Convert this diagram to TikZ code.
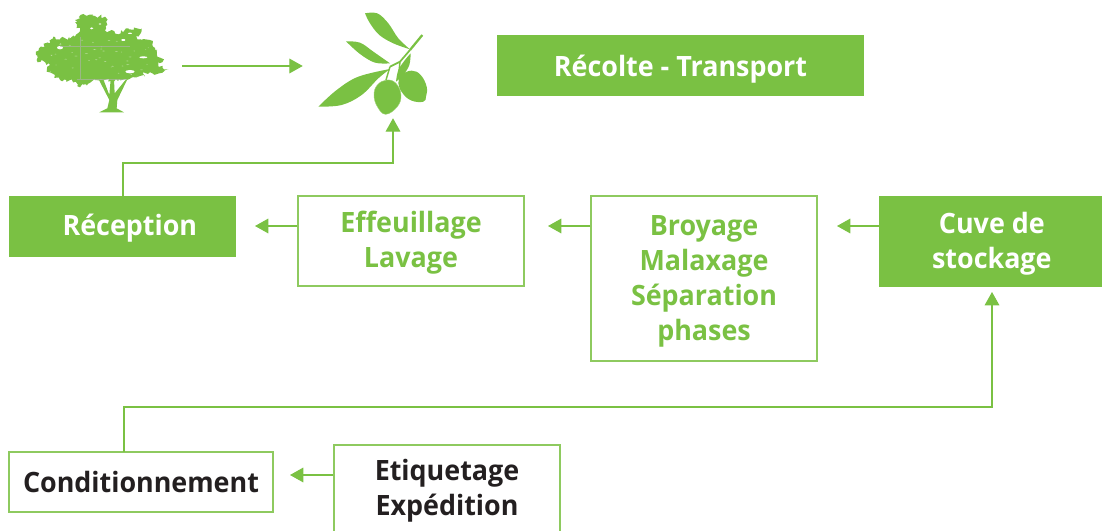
\documentclass[tikz,border=0pt]{standalone}
\usepackage{fontspec}
\setmainfont[FakeStretch=0.96]{Open Sans}
\usetikzlibrary{arrows.meta,decorations.pathmorphing}
\definecolor{olivegreen}{HTML}{7AC143}
\definecolor{inkdark}{HTML}{231F20}
\newcommand{\tp}{\rule{0pt}{19pt}}
\newcommand{\bt}{\rule[-3.2pt]{0pt}{3.2pt}}
\tikzset{
  x=0.75pt,y=-0.75pt,
  boxbase/.style={rectangle,inner sep=0pt,align=center,font=\fontsize{21}{26.2}\selectfont\bfseries},
  filledbox/.style={boxbase,fill=olivegreen,text=white},
  outlinebox/.style={boxbase,draw=olivegreen!85,line width=0.85pt,text=olivegreen},
  darkbox/.style={outlinebox,text=inkdark},
  flow/.style={draw=olivegreen,line width=0.85pt,-{Triangle[length=10pt,width=11pt,fill=olivegreen]},shorten >=0pt},
  hidden/.style={rectangle,inner sep=0pt},
  plant/.style={fill=olivegreen,draw=none},
}
\begin{document}
\begin{tikzpicture}
\useasboundingbox (0,0) rectangle (1102,531);
\clip (0,0) rectangle (1102,531);
\pgfmathsetseed{42}
% tree (zoom coordinates: 3 units per pixel)
\begin{scope}[shift={(20,0)},x=0.25pt,y=-0.25pt]
  \fill[plant,decorate,decoration={random steps,segment length=1.6pt,amplitude=1.5pt}]
   (48,155)--(62,140)--(90,130)--(100,110)--(120,118)--(165,110)--(180,92)--(165,60)--(190,42)--(225,48)--(255,50)--(262,75)--(255,92)--(275,90)--(285,100)--(302,100)--(318,85)--(365,85)--(362,100)--(350,112)--(390,120)--(412,150)--(405,170)--(432,178)--(415,195)--(446,208)--(405,224)--(370,215)--(375,230)--(320,240)--(225,240)--(180,262)--(150,240)--(120,240)--(80,215)--(90,195)--(50,180)--cycle;
  \fill[plant] (238,337)--(262,325)--(268,300)--(236,238)--(250,238)--(268,285)--(272,238)--(282,238)--(284,280)--(318,238)--(322,238)--(292,300)--(290,325)--(312,337)--cycle;
  \foreach \i in {1,...,45}{
    \pgfmathsetmacro{\cx}{70+rnd*330}
    \pgfmathsetmacro{\cy}{115+rnd*115}
    \pgfmathsetmacro{\rx}{1+rnd*4}
    \fill[white,opacity=.5] (\cx,\cy) ellipse ({\rx} and 1);
  }
  \fill[white] (120,143) ellipse (9 and 5) (370,172) ellipse (12 and 3) (330,215) ellipse (14 and 5) (215,85) ellipse (5 and 3) (310,120) ellipse (6 and 3) (240,72) ellipse (4 and 2) (330,100) ellipse (6 and 2);
  \draw[black!30,opacity=.6,line width=0.4pt] (120,139)--(330,139) (181,110)--(181,240) (170,238)--(320,238);
\end{scope}
% olive branch
\begin{scope}[shift={(290,0)},x=0.25pt,y=-0.25pt]
  \fill[plant] plot[smooth,tension=.6] coordinates {(225,40)(262,40)(295,70)(325,115)(360,148)} -- plot[smooth,tension=.6] coordinates {(360,148)(310,130)(268,105)(240,70)(225,40)} -- cycle;
  \fill[plant] plot[smooth,tension=.6] coordinates {(168,124)(210,128)(250,155)(300,190)} -- plot[smooth,tension=.6] coordinates {(300,190)(255,188)(210,162)(168,124)} -- cycle;
  \fill[plant] plot[smooth,tension=.6] coordinates {(85,320)(140,270)(205,230)(300,207)} -- plot[smooth,tension=.6] coordinates {(300,207)(265,235)(215,285)(155,315)(85,320)} -- cycle;
  \fill[plant] plot[smooth,tension=.6] coordinates {(318,245)(325,210)(345,180)(362,160)} -- plot[smooth,tension=.6] coordinates {(362,160)(358,195)(340,225)(318,245)} -- cycle;
  \draw[olivegreen,line width=1.7pt] (397,105)--(360,150);
  \draw[olivegreen,line width=1.3pt] (360,150)--(330,185)--(300,200);
  \draw[olivegreen,line width=1.1pt] (300,200)--(288,240) (330,185)--(325,235);
  \fill[plant] plot[smooth cycle,tension=.7] coordinates {(400,305)(365,302)(338,280)(325,250)(335,225)(365,212)(392,225)(410,260)(408,290)};
  \fill[plant,draw=olivegreen!70,line width=0.3pt] plot[smooth cycle,tension=.7] coordinates {(287,343)(262,320)(252,285)(262,255)(290,240)(318,250)(333,285)(322,320)};
\end{scope}
\node[hidden,minimum width=119.25pt,minimum height=73.5pt] (tree) at (102.5,66) {};
\node[hidden,minimum width=135pt,minimum height=78pt] (olive) at (393,66) {};
% boxes
\node[filledbox,minimum width=275.25pt,minimum height=45.75pt] (harvest) at (680.5,65.5) {\rule{0pt}{22pt}Récolte - Transport\bt};
\node[filledbox,minimum width=170.25pt,minimum height=45.75pt] (reception) at (122.5,226.5) {\hspace*{11pt}\tp Réception\bt};
\node[outlinebox,minimum width=169.5pt,minimum height=67.5pt] (wash) at (411,241) {\tp Effeuillage\\Lavage\bt};
\node[outlinebox,minimum width=169.5pt,minimum height=123.75pt] (crush) at (704,278.5) {\tp Broyage\\Malaxage\\Séparation\\phases\bt};
\node[filledbox,minimum width=167.25pt,minimum height=68.25pt] (tank) at (990.5,241.5) {\hspace*{2pt}\tp Cuve de\\\hspace*{2pt}stockage\bt};
\node[darkbox,minimum width=198pt,minimum height=45pt] (bottling) at (141,482) {\tp Conditionnement\bt};
\node[darkbox,minimum width=169.5pt,minimum height=72pt] (label) at (447,493) {};
\node[text=inkdark,boxbase] (labeltext) at (447,489) {\tp Etiquetage\\Expédition\bt};
% connectors
\coordinate (recout) at (123,196);
\coordinate (elbowa) at (393,163);
\coordinate (bottout) at (124,452);
\coordinate (elbowb) at (992,407);
\coordinate (tankin) at (992,292);
\coordinate (recin) at (255,226);
\coordinate (washin) at (548,226);
\coordinate (crushin) at (837,226);
\coordinate (bottin) at (290,475);
\draw[flow] (tree.east) -- (olive.west);
\draw[flow] (recout) |- (elbowa) -- (olive.south);
\draw[flow] (wash.west |- recin) -- (recin);
\draw[flow] (crush.west |- washin) -- (washin);
\draw[flow] (tank.west |- crushin) -- (crushin);
\draw[flow] (bottout) |- (elbowb) -- (tankin);
\draw[flow] (label.west |- bottin) -- (bottin);
\end{tikzpicture}
\end{document}
